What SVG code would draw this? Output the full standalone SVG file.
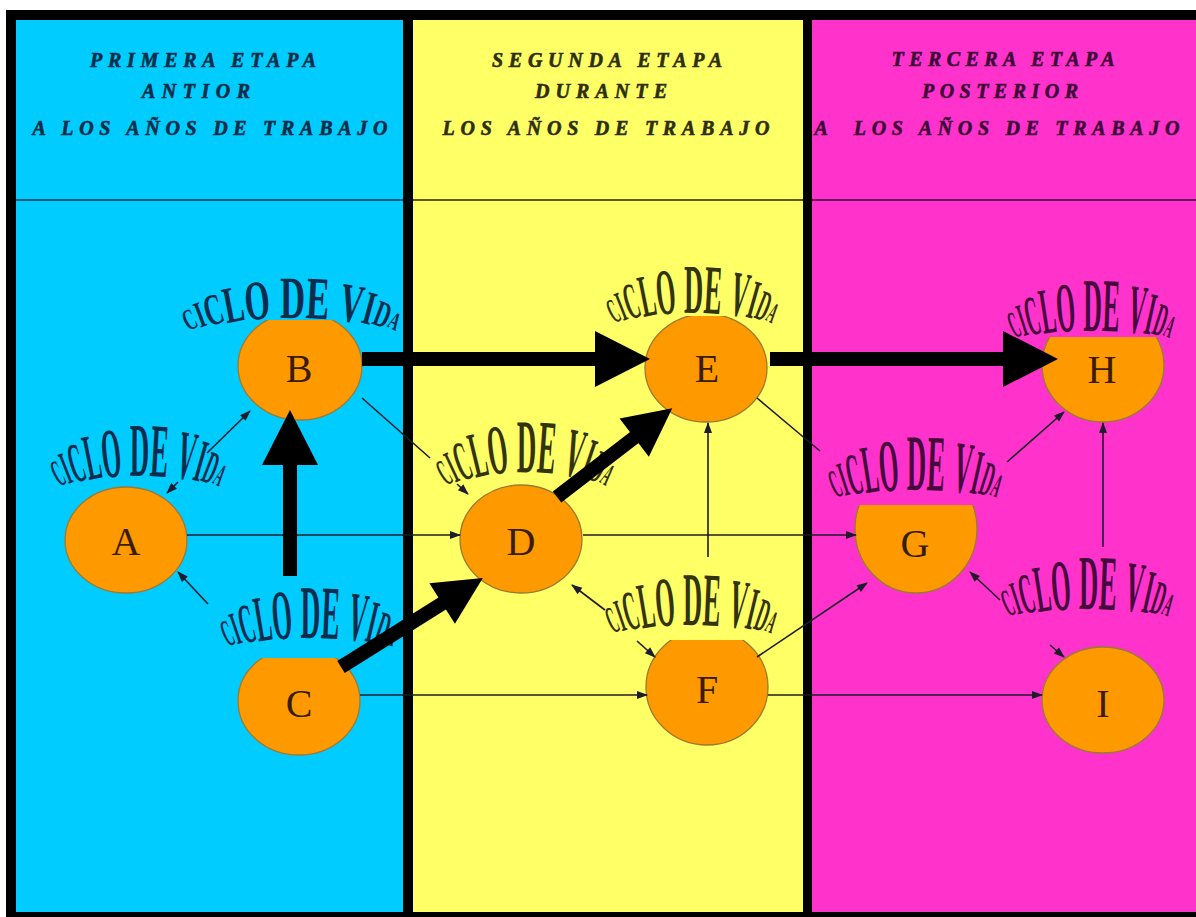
<svg xmlns="http://www.w3.org/2000/svg" width="1196" height="917" viewBox="0 0 1196 917">
  <style>
    .hd { font-family: "Liberation Serif", "Times New Roman", serif; font-weight: bold; font-style: italic; font-size: 20px; text-anchor: middle; stroke-width: 0.6; }
    .hdc { fill: #0b2d48; stroke: #0b2d48; }
    .hdy { fill: #2e2e10; stroke: #2e2e10; }
    .hdm { fill: #3e0a38; stroke: #3e0a38; }
    .node { fill: #FF9900; stroke: #9a7a34; stroke-width: 1.3; }
    .lt { font-family: "Liberation Serif", "Times New Roman", serif; font-size: 40px; fill: #3a1c00; text-anchor: middle; }
    .wa { font-family: "Liberation Serif", "Times New Roman", serif; font-weight: bold; text-anchor: middle; }
    .wc { fill: #0a2d4d; }
    .wy { fill: #33330d; }
    .wm { fill: #45093c; }
    .k1 { font-size: .5em; } .k2 { font-size: .62em; } .k3 { font-size: .74em; }
    .k4 { font-size: .86em; } .k5 { font-size: .93em; } .k6 { font-size: .97em; }
    .k7 { font-size: .92em; } .k8 { font-size: .8em; } .k9 { font-size: .62em; } .k10 { font-size: .42em; }
    .thin { fill: none; stroke: #1c1c2c; stroke-width: 1.6; }
    .thick { fill: none; stroke: #000; stroke-width: 14; }
  </style>
  <defs>
    <marker id="tip" markerUnits="userSpaceOnUse" markerWidth="11" markerHeight="8" refX="10" refY="4" orient="auto-start-reverse" overflow="visible">
      <path d="M0,0 L11,4 L0,8 z" fill="#1c1c2c"/>
    </marker>
    <marker id="bigHead" markerUnits="userSpaceOnUse" markerWidth="56" markerHeight="56" refX="1" refY="28" orient="auto" overflow="visible">
      <path d="M0,0 L55,28 L0,56 z" fill="#000"/>
    </marker>
    <marker id="bigHeadS" markerUnits="userSpaceOnUse" markerWidth="48" markerHeight="48" refX="1" refY="24" orient="auto" overflow="visible">
      <path d="M0,0 L48,24 L0,48 z" fill="#000"/>
    </marker>
    <!-- baselines of the arched "CICLO DE VIDA" titles -->
    <path id="arcA" d="M46,489 A336,336 0 0 1 232,489"/>
    <path id="arcB" d="M175,333 A463,463 0 0 1 409,333"/>
    <path id="arcC" d="M215,648 A465,465 0 0 1 405,648"/>
    <path id="arcD" d="M432,490 A258,258 0 0 1 620,490"/>
    <path id="arcE" d="M601,326 A329,329 0 0 1 785,326"/>
    <path id="arcF" d="M600,635 A435,435 0 0 1 784,635"/>
    <path id="arcG" d="M823,499 A499,499 0 0 1 1009,499"/>
    <path id="arcH" d="M998,340 A488,488 0 0 1 1186,340"/>
    <path id="arcI" d="M995,618 A494,494 0 0 1 1181,618"/>
    <!-- flat tops where the titles cut the ellipses -->
    <clipPath id="cutB"><rect x="0" y="320" width="1196" height="600"/></clipPath>
    <clipPath id="cutC"><rect x="0" y="658" width="1196" height="300"/></clipPath>
    <clipPath id="cutE"><rect x="0" y="316" width="1196" height="600"/></clipPath>
    <clipPath id="cutF"><rect x="0" y="640" width="1196" height="300"/></clipPath>
    <clipPath id="cutG"><rect x="0" y="505" width="1196" height="400"/></clipPath>
    <clipPath id="cutH"><rect x="0" y="337" width="1196" height="600"/></clipPath>
  </defs>

  <!-- frame and stage columns -->
  <rect x="0" y="0" width="1196" height="917" fill="#fff"/>
  <rect x="6" y="10" width="1190" height="907" fill="#000"/>
  <rect x="16" y="20" width="387" height="892" fill="#00CCFF"/>
  <rect x="413" y="20" width="390" height="892" fill="#FFFF66"/>
  <rect x="812" y="20" width="384" height="892" fill="#FF33CC"/>
  <line x1="16" y1="200" x2="403" y2="200" stroke="#0d5a78" stroke-width="2"/>
  <line x1="413" y1="200" x2="803" y2="200" stroke="#5c5c26" stroke-width="2"/>
  <line x1="812" y1="200" x2="1196" y2="200" stroke="#6a1060" stroke-width="2"/>

  <!-- stage headings -->
  <g id="headings">
    <text class="hd hdc" x="203" y="67" textLength="226" lengthAdjust="spacing">PRIMERA ETAPA</text>
    <text class="hd hdc" x="196" y="98" textLength="108" lengthAdjust="spacing">ANTIOR</text>
    <text class="hd hdc" x="210" y="135" textLength="355" lengthAdjust="spacing">A LOS AÑOS DE TRABAJO</text>
    <text class="hd hdy" x="607" y="67" textLength="230" lengthAdjust="spacing">SEGUNDA ETAPA</text>
    <text class="hd hdy" x="601" y="98" textLength="132" lengthAdjust="spacing">DURANTE</text>
    <text class="hd hdy" x="606" y="135" textLength="327" lengthAdjust="spacing">LOS AÑOS DE TRABAJO</text>
    <text class="hd hdm" x="1003" y="66" textLength="223" lengthAdjust="spacing">TERCERA ETAPA</text>
    <text class="hd hdm" x="1000" y="98" textLength="156" lengthAdjust="spacing">POSTERIOR</text>
    <text class="hd hdm" x="997" y="135" textLength="365" lengthAdjust="spacing" style="white-space:pre">A  LOS AÑOS DE TRABAJO</text>
  </g>

  <!-- nodes -->
  <g id="node-A">
    <ellipse class="node" cx="126" cy="540" rx="61" ry="53"/>
    <text class="lt" x="126" y="555">A</text>
    <text class="wa wc" font-size="76"><textPath href="#arcA" startOffset="50%" textLength="162" lengthAdjust="spacingAndGlyphs"><tspan class="k1" rotate="-14">C</tspan><tspan class="k2" rotate="-10">I</tspan><tspan class="k3" rotate="-7">C</tspan><tspan class="k4" rotate="-4">L</tspan><tspan class="k5" rotate="-2">O</tspan><tspan class="k6"> </tspan>DE<tspan class="k6"> </tspan><tspan class="k7" rotate="3">V</tspan><tspan class="k8" rotate="6">I</tspan><tspan class="k9" rotate="10">D</tspan><tspan class="k10" rotate="14">A</tspan></textPath></text>
  </g>
  <g id="node-B">
    <ellipse class="node" cx="300" cy="366" rx="62" ry="54" clip-path="url(#cutB)"/>
    <text class="lt" x="299" y="382">B</text>
    <text class="wa wc" font-size="60"><textPath href="#arcB" startOffset="50%" textLength="210" lengthAdjust="spacingAndGlyphs"><tspan class="k1" rotate="-14">C</tspan><tspan class="k2" rotate="-10">I</tspan><tspan class="k3" rotate="-7">C</tspan><tspan class="k4" rotate="-4">L</tspan><tspan class="k5" rotate="-2">O</tspan><tspan class="k6"> </tspan>DE<tspan class="k6"> </tspan><tspan class="k7" rotate="3">V</tspan><tspan class="k8" rotate="6">I</tspan><tspan class="k9" rotate="10">D</tspan><tspan class="k10" rotate="14">A</tspan></textPath></text>
  </g>
  <g id="node-C">
    <ellipse class="node" cx="299" cy="701" rx="61" ry="54" clip-path="url(#cutC)"/>
    <text class="lt" x="299" y="717">C</text>
    <text class="wa wc" font-size="76"><textPath href="#arcC" startOffset="50%" textLength="166" lengthAdjust="spacingAndGlyphs"><tspan class="k1" rotate="-14">C</tspan><tspan class="k2" rotate="-10">I</tspan><tspan class="k3" rotate="-7">C</tspan><tspan class="k4" rotate="-4">L</tspan><tspan class="k5" rotate="-2">O</tspan><tspan class="k6"> </tspan>DE<tspan class="k6"> </tspan><tspan class="k7" rotate="3">V</tspan><tspan class="k8" rotate="6">I</tspan><tspan class="k9" rotate="10">D</tspan><tspan class="k10" rotate="14">A</tspan></textPath></text>
  </g>
  <g id="node-D">
    <ellipse class="node" cx="521" cy="539" rx="61" ry="54"/>
    <text class="lt" x="521" y="555">D</text>
    <text class="wa wy" font-size="76"><textPath href="#arcD" startOffset="50%" textLength="163" lengthAdjust="spacingAndGlyphs"><tspan class="k1" rotate="-14">C</tspan><tspan class="k2" rotate="-10">I</tspan><tspan class="k3" rotate="-7">C</tspan><tspan class="k4" rotate="-4">L</tspan><tspan class="k5" rotate="-2">O</tspan><tspan class="k6"> </tspan>DE<tspan class="k6"> </tspan><tspan class="k7" rotate="3">V</tspan><tspan class="k8" rotate="6">I</tspan><tspan class="k9" rotate="10">D</tspan><tspan class="k10" rotate="14">A</tspan></textPath></text>
  </g>
  <g id="node-E">
    <ellipse class="node" cx="706" cy="368" rx="61" ry="54" clip-path="url(#cutE)"/>
    <text class="lt" x="707" y="382">E</text>
    <text class="wa wy" font-size="70"><textPath href="#arcE" startOffset="50%" textLength="160" lengthAdjust="spacingAndGlyphs"><tspan class="k1" rotate="-14">C</tspan><tspan class="k2" rotate="-10">I</tspan><tspan class="k3" rotate="-7">C</tspan><tspan class="k4" rotate="-4">L</tspan><tspan class="k5" rotate="-2">O</tspan><tspan class="k6"> </tspan>DE<tspan class="k6"> </tspan><tspan class="k7" rotate="3">V</tspan><tspan class="k8" rotate="6">I</tspan><tspan class="k9" rotate="10">D</tspan><tspan class="k10" rotate="14">A</tspan></textPath></text>
  </g>
  <g id="node-F">
    <ellipse class="node" cx="707" cy="687" rx="61" ry="58" clip-path="url(#cutF)"/>
    <text class="lt" x="707" y="703">F</text>
    <text class="wa wy" font-size="76"><textPath href="#arcF" startOffset="50%" textLength="160" lengthAdjust="spacingAndGlyphs"><tspan class="k1" rotate="-14">C</tspan><tspan class="k2" rotate="-10">I</tspan><tspan class="k3" rotate="-7">C</tspan><tspan class="k4" rotate="-4">L</tspan><tspan class="k5" rotate="-2">O</tspan><tspan class="k6"> </tspan>DE<tspan class="k6"> </tspan><tspan class="k7" rotate="3">V</tspan><tspan class="k8" rotate="6">I</tspan><tspan class="k9" rotate="10">D</tspan><tspan class="k10" rotate="14">A</tspan></textPath></text>
  </g>
  <g id="node-G">
    <ellipse class="node" cx="916" cy="529" rx="61" ry="64" clip-path="url(#cutG)"/>
    <text class="lt" x="915" y="557">G</text>
    <text class="wa wm" font-size="80"><textPath href="#arcG" startOffset="50%" textLength="162" lengthAdjust="spacingAndGlyphs"><tspan class="k1" rotate="-14">C</tspan><tspan class="k2" rotate="-10">I</tspan><tspan class="k3" rotate="-7">C</tspan><tspan class="k4" rotate="-4">L</tspan><tspan class="k5" rotate="-2">O</tspan><tspan class="k6"> </tspan>DE<tspan class="k6"> </tspan><tspan class="k7" rotate="3">V</tspan><tspan class="k8" rotate="6">I</tspan><tspan class="k9" rotate="10">D</tspan><tspan class="k10" rotate="14">A</tspan></textPath></text>
  </g>
  <g id="node-H">
    <ellipse class="node" cx="1103" cy="365" rx="61" ry="57" clip-path="url(#cutH)"/>
    <text class="lt" x="1102" y="383">H</text>
    <text class="wa wm" font-size="76"><textPath href="#arcH" startOffset="50%" textLength="156" lengthAdjust="spacingAndGlyphs"><tspan class="k1" rotate="-14">C</tspan><tspan class="k2" rotate="-10">I</tspan><tspan class="k3" rotate="-7">C</tspan><tspan class="k4" rotate="-4">L</tspan><tspan class="k5" rotate="-2">O</tspan><tspan class="k6"> </tspan>DE<tspan class="k6"> </tspan><tspan class="k7" rotate="3">V</tspan><tspan class="k8" rotate="6">I</tspan><tspan class="k9" rotate="10">D</tspan><tspan class="k10" rotate="14">A</tspan></textPath></text>
  </g>
  <g id="node-I">
    <ellipse class="node" cx="1103" cy="700" rx="61" ry="53"/>
    <text class="lt" x="1103" y="717">I</text>
    <text class="wa wm" font-size="78"><textPath href="#arcI" startOffset="50%" textLength="161" lengthAdjust="spacingAndGlyphs"><tspan class="k1" rotate="-14">C</tspan><tspan class="k2" rotate="-10">I</tspan><tspan class="k3" rotate="-7">C</tspan><tspan class="k4" rotate="-4">L</tspan><tspan class="k5" rotate="-2">O</tspan><tspan class="k6"> </tspan>DE<tspan class="k6"> </tspan><tspan class="k7" rotate="3">V</tspan><tspan class="k8" rotate="6">I</tspan><tspan class="k9" rotate="10">D</tspan><tspan class="k10" rotate="14">A</tspan></textPath></text>
  </g>

  <!-- connectors -->
  <g id="connectors">
    <path class="thin" d="M187,535 H460" marker-end="url(#tip)"/>
    <path class="thin" d="M583,535 H856" marker-end="url(#tip)"/>
    <path class="thin" d="M360,695 H647" marker-end="url(#tip)"/>
    <path class="thin" d="M768,695 H1042" marker-end="url(#tip)"/>
    <path class="thin" d="M207,453 L250,411" marker-end="url(#tip)"/>
    <path class="thin" d="M178,482 L167,493" marker-end="url(#tip)"/>
    <path class="thin" d="M208,604 L178,572" marker-end="url(#tip)"/>
    <path class="thin" d="M362,398 L430,458"/>
    <path class="thin" d="M457,484 L468,494" marker-end="url(#tip)"/>
    <path class="thin" d="M757,398 L820,451"/>
    <path class="thin" d="M708,557 V423" marker-end="url(#tip)"/>
    <path class="thin" d="M605,610 L572,585" marker-end="url(#tip)"/>
    <path class="thin" d="M637,641 L655,657" marker-end="url(#tip)"/>
    <path class="thin" d="M757,657 L867,583" marker-end="url(#tip)"/>
    <path class="thin" d="M1000,600 L970,572" marker-end="url(#tip)"/>
    <path class="thin" d="M1050,645 L1064,657" marker-end="url(#tip)"/>
    <path class="thin" d="M1007,462 L1064,412" marker-end="url(#tip)"/>
    <path class="thin" d="M1103,547 V423" marker-end="url(#tip)"/>

    <path class="thick" d="M362,359 H596" marker-end="url(#bigHead)"/>
    <path class="thick" d="M770,359 H1004" marker-end="url(#bigHead)"/>
    <path class="thick" d="M290,576 V464" marker-end="url(#bigHead)"/>
    <path class="thick" d="M341,667 L443,603" marker-end="url(#bigHeadS)"/>
    <path class="thick" d="M557,497 L635,437" marker-end="url(#bigHeadS)"/>
  </g>
</svg>
